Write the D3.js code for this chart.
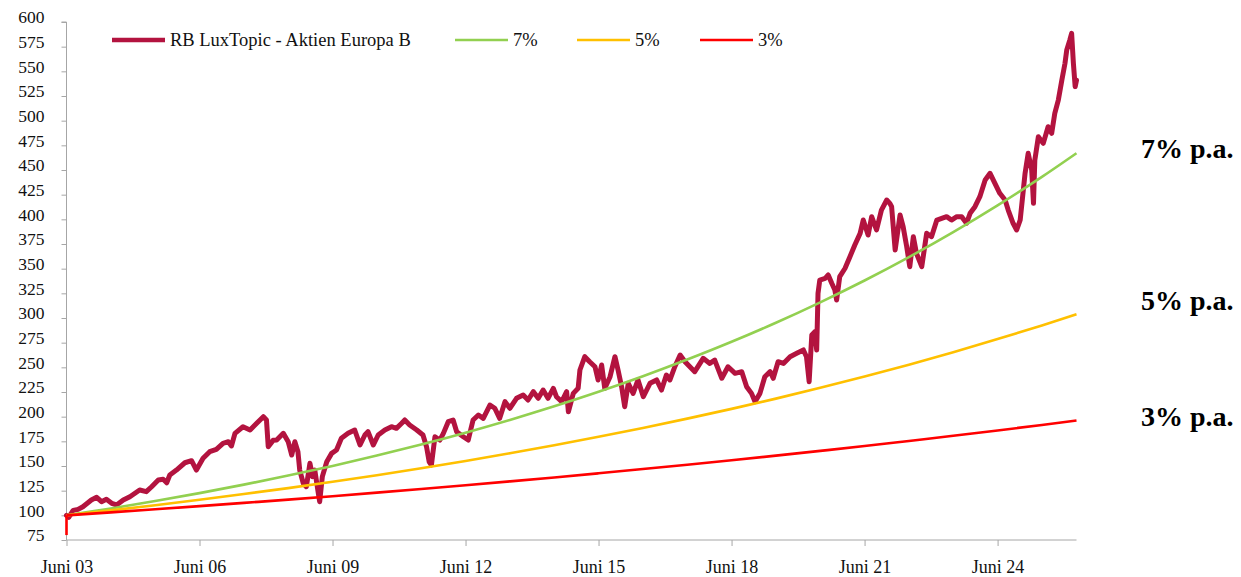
<!DOCTYPE html>
<html>
<head>
<meta charset="utf-8">
<script src="https://cdn.jsdelivr.net/npm/d3@7"></script>
<style>
  html, body { margin: 0; padding: 0; background: #fff; }
  svg { display: block; }
</style>
</head>
<body>
<svg id="chart" width="1241" height="577"></svg>
<script>
// ---------- DATA ----------
const yTicks = [75,100,125,150,175,200,225,250,275,300,325,350,375,400,425,450,475,500,525,550,575,600];
const xTickYears = [2003.42, 2006.42, 2009.42, 2012.42, 2015.42, 2018.42, 2021.42, 2024.42];
const xTickLabels = ["Juni 03","Juni 06","Juni 09","Juni 12","Juni 15","Juni 18","Juni 21","Juni 24"];

const seriesNames = ["RB LuxTopic - Aktien Europa B", "7%", "5%", "3%"];
const seriesColors = ["#B3133F", "#92D050", "#FFC000", "#FF0000"];
const paLabels = ["7% p.a.", "5% p.a.", "3% p.a."];

// fund (decimal years, index values)
const fundYears = [
 2003.42,2003.47,2003.57,2003.68,2003.79,2003.98,2004.10,2004.21,2004.32,2004.44,2004.55,2004.70,2004.85,
 2005.07,2005.22,2005.34,2005.49,2005.60,2005.68,2005.75,2005.90,2006.09,2006.24,2006.35,2006.50,2006.65,
 2006.80,2006.95,2007.07,2007.14,2007.22,2007.40,2007.56,2007.71,2007.86,2007.93,2007.97,2008.08,2008.16,
 2008.31,2008.42,2008.50,2008.57,2008.64,2008.68,2008.76,2008.83,2008.91,2008.97,2009.02,2009.10,2009.13,
 2009.19,2009.29,2009.40,2009.51,2009.62,2009.77,2009.92,2010.04,2010.15,2010.22,2010.34,2010.45,2010.60,
 2010.75,2010.86,2010.98,2011.05,2011.16,2011.32,2011.46,2011.54,2011.60,2011.65,2011.73,2011.84,2011.92,
 2012.03,2012.14,2012.22,2012.37,2012.48,2012.59,2012.71,2012.82,2012.97,2013.08,2013.19,2013.31,2013.42,
 2013.57,2013.72,2013.83,2013.95,2014.06,2014.17,2014.28,2014.40,2014.47,2014.59,2014.70,2014.74,2014.85,
 2014.96,2015.00,2015.11,2015.22,2015.34,2015.41,2015.49,2015.56,2015.68,2015.79,2015.86,2015.94,2016.01,
 2016.09,2016.20,2016.31,2016.43,2016.58,2016.73,2016.84,2016.95,2017.03,2017.14,2017.26,2017.37,2017.48,
 2017.59,2017.78,2017.93,2018.04,2018.20,2018.34,2018.50,2018.65,2018.76,2018.87,2018.95,2019.06,2019.17,
 2019.29,2019.36,2019.47,2019.59,2019.74,2019.89,2020.04,2020.11,2020.17,2020.23,2020.30,2020.34,2020.37,
 2020.41,2020.53,2020.60,2020.68,2020.75,2020.79,2020.86,2020.98,2021.09,2021.20,2021.32,2021.39,2021.50,
 2021.58,2021.69,2021.80,2021.92,2021.99,2022.03,2022.11,2022.22,2022.29,2022.37,2022.44,2022.52,2022.59,
 2022.71,2022.82,2022.93,2023.05,2023.16,2023.27,2023.38,2023.50,2023.61,2023.72,2023.80,2023.91,2024.02,
 2024.14,2024.25,2024.36,2024.47,2024.59,2024.66,2024.77,2024.85,2024.93,2025.04,2025.11,2025.19,2025.23,
 2025.26,2025.34,2025.45,2025.56,2025.64,2025.71,2025.79,2025.87,2025.94,2025.98,2026.05,2026.09,2026.13,
 2026.17,2026.20
];
const fundValues = [
 100,98,105,106,108.7,115.5,118.3,113.8,116.2,112.2,110.5,115.5,118.9,
 125.7,124,129,135.8,136.5,133,140.9,145.9,153.3,155.4,145.9,157.8,164.5,
 166.9,173,174.6,170.3,183.1,189.8,186.5,193.3,200,196.6,169.6,176,176.3,
 183.1,174.6,161.1,174.6,164.5,145.9,132.5,129,152.7,139.2,145.9,122.3,113.8,
 139.2,154.3,162.8,166.2,178.1,183.1,186.5,171.3,181.4,184.8,171.3,181.4,186.5,
 189.8,188.2,193.3,196.6,191.6,186.5,181.4,169.6,154.3,151,179.7,176.3,183.1,
 194.9,196.6,184.8,179.7,176.3,196.6,201.7,198.3,211.8,208.5,198.3,215.2,208.5,
 218.6,222,216.9,225.3,218.6,227,218.6,228.7,220.2,215.2,225.3,205,223.6,
 228.7,247.3,260.8,255.7,250.6,237.2,252.4,228.7,240.5,260.8,247.3,230.4,210.1,
 233.8,223.6,237.2,220.2,233.8,237.2,227,242.2,237.2,250.6,262.5,255.7,250.6,
 245.6,259.1,254,257.4,238.9,250.6,243.9,245.6,230.4,223.6,215.2,223.6,240.5,
 245.6,238.9,255.7,254,260.8,264.2,267.6,260.8,235.5,282.8,286.1,267.6,325,
 338.5,340.2,343.6,335.2,328.4,318.2,341.9,350.4,362.1,374,385.8,399.3,384.1,
 402.7,389.2,409.4,419.6,416.2,412.8,368.9,404.4,392.5,372.3,352,382.4,365.6,
 352,385.8,382.4,399.3,401,402.7,399.3,402.7,402.7,396,406.1,412.8,423,
 439.9,446.6,436.5,426.4,419.6,409.4,396,389.2,399.3,446.6,466.9,450,416.2,
 460.1,483.7,477,493.9,487.2,507.4,520.9,541.2,558.1,571.6,581.8,588.5,558.1,
 534.5,541
];

// benchmark lines (June of each year, end point)
const refYears = [2003.42,2004.42,2005.42,2006.42,2007.42,2008.42,2009.42,2010.42,2011.42,2012.42,2013.42,2014.42,
 2015.42,2016.42,2017.42,2018.42,2019.42,2020.42,2021.42,2022.42,2023.42,2024.42,2025.42,2026.20];
const values7 = [100,107,114.5,122.5,131.1,140.3,150.1,160.6,171.8,183.8,196.7,210.5,225.2,241.0,257.9,275.9,295.2,315.9,338.0,361.7,387.0,414.1,443.0,467.0];
const values5 = [100,105,110.3,115.8,121.6,127.6,134.0,140.7,147.7,155.1,162.9,171.0,179.6,188.6,198.0,207.9,218.3,229.2,240.7,252.7,265.3,278.6,292.5,303.9];
const values3 = [100,103,106.1,109.3,112.6,115.9,119.4,123.0,126.7,130.5,134.4,138.4,142.6,146.9,151.3,155.8,160.5,165.3,170.2,175.4,180.6,186.0,191.6,196.1];
const start3Year = 2003.42, start3Value = 80;

// ---------- LAYOUT ----------
const svg = d3.select("#chart");
const x = d3.scaleLinear().domain([2003.42, 2026.20]).range([66.5, 1076.5]);
const y = d3.scaleLinear().domain([75, 600]).range([540, 22]);
const serif = "'Liberation Serif','Times New Roman',serif";
const axisColor = "#A6A6A6";

// Y axis
const yAxis = svg.append("g").attr("transform", `translate(${x.range()[0]},0)`)
  .call(d3.axisLeft(y).tickValues(yTicks).tickSize(5).tickPadding(17).tickFormat(d3.format("d")));
yAxis.attr("font-family", null).attr("font-size", null);
yAxis.select(".domain").attr("stroke", axisColor).attr("d", `M-5,${y(600)}H0V${y(75)}`);
yAxis.selectAll(".tick line").attr("stroke", axisColor);
yAxis.selectAll(".tick text").attr("fill", "#111").style("font-family", serif).style("font-size", "17.5px").attr("dy", "0.05em");

// X axis
const xAxis = svg.append("g").attr("transform", `translate(0,${y(75)})`)
  .call(d3.axisBottom(x).tickValues(xTickYears).tickSize(6).tickPadding(14)
    .tickFormat((d, i) => xTickLabels[i]));
xAxis.attr("font-family", null).attr("font-size", null);
xAxis.select(".domain").attr("stroke", axisColor).attr("d", `M${x.range()[0]},0H${x.range()[1]}`);
xAxis.selectAll(".tick line").attr("stroke", axisColor);
xAxis.selectAll(".tick text").attr("fill", "#111").style("font-family", serif).style("font-size", "18px");

// lines
const line = d3.line().x(d => x(d[0])).y(d => y(d[1]));
const smooth = d3.line().x(d => x(d[0])).y(d => y(d[1])).curve(d3.curveMonotoneX);

svg.append("path").datum(fundYears.map((t, i) => [t, fundValues[i]]))
  .attr("d", line).attr("fill", "none").attr("stroke", seriesColors[0])
  .attr("stroke-width", 5).attr("stroke-linejoin", "round").attr("stroke-linecap", "round");

[values7, values5, values3].forEach((vals, k) => {
  const pts = refYears.map((t, i) => [t, vals[i]]);
  svg.append("path").datum(pts).attr("d", smooth).attr("fill", "none")
    .attr("stroke", seriesColors[k + 1]).attr("stroke-width", 2.6);
});
// initial vertical segment of the 3% line
svg.append("path").datum([[start3Year, start3Value], [refYears[0], values3[0]]])
  .attr("d", line).attr("fill", "none").attr("stroke", seriesColors[3]).attr("stroke-width", 2.6);

// p.a. labels
const endVals = [values7, values5, values3].map(v => v[v.length - 1]);
const labelOffsets = [5, -4, 5];
paLabels.forEach((lab, k) => {
  svg.append("text").attr("x", 1141).attr("y", y(endVals[k]) + labelOffsets[k])
    .style("font-family", serif).attr("font-weight", "bold").attr("font-size", "28px")
    .attr("fill", "#000").text(lab);
});

// legend
const legendItems = [
  {x0: 112, x1: 165, w: 4.5},
  {x0: 455, x1: 508, w: 2.6},
  {x0: 577, x1: 630, w: 2.6},
  {x0: 700, x1: 753, w: 2.6}
];
const lg = svg.append("g");
legendItems.forEach((it, i) => {
  lg.append("line").attr("x1", it.x0).attr("x2", it.x1).attr("y1", 40).attr("y2", 40)
    .attr("stroke", seriesColors[i]).attr("stroke-width", it.w);
  lg.append("text").attr("x", it.x1 + 5).attr("y", 46).style("font-family", serif)
    .attr("font-size", "18.5px").attr("fill", "#111").text(seriesNames[i]);
});
</script>
</body>
</html>
